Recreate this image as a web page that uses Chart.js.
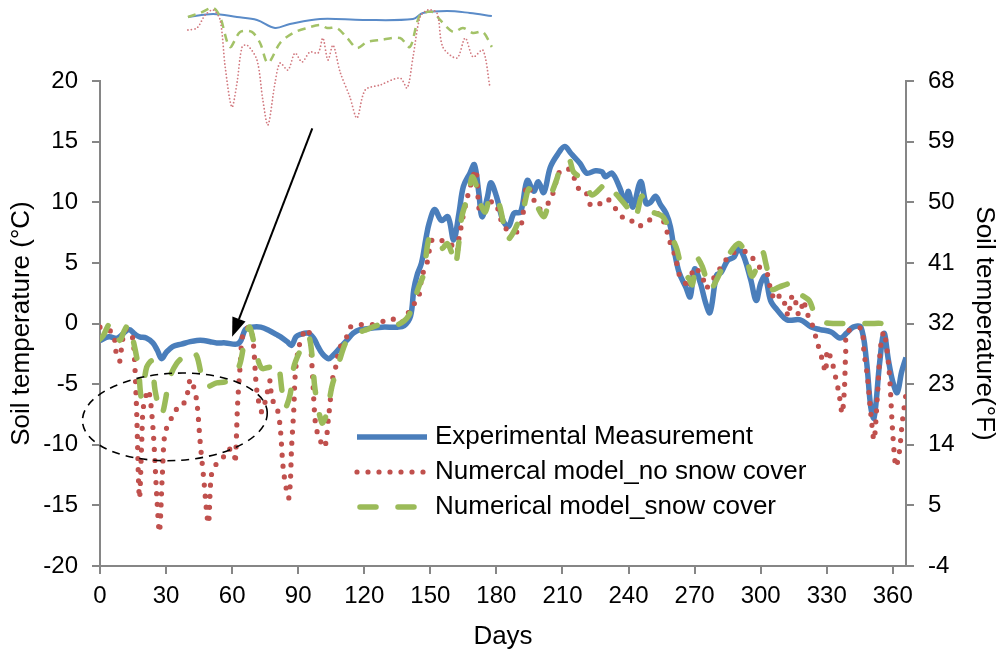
<!DOCTYPE html>
<html>
<head>
<meta charset="utf-8">
<script src="https://cdn.jsdelivr.net/npm/chart.js@4.4.1/dist/chart.umd.min.js"></script>
<style>
  html, body { margin: 0; padding: 0; background: #fff; }
  #wrap { position: relative; width: 1001px; height: 654px; }
  #mainChart { position: absolute; left: 0; top: 0; }
  #zoomChart { position: absolute; left: 187px; top: 3px; }
</style>
</head>
<body>
<div id="wrap">
  <canvas id="mainChart" width="1001" height="654"></canvas>
  <canvas id="zoomChart" width="308" height="126"></canvas>
</div>
<script>
// ---- measured soil temperature (°C) by day of year ----
const measDays = [0, 4, 8, 13, 16, 18, 21, 24, 26, 28, 30, 33, 37, 41, 44, 47, 50, 53, 57, 62, 64, 66, 69, 73, 77, 80, 82, 85, 87, 89, 91, 94.5, 97, 99, 101, 103.8, 106, 109, 112, 115, 118, 123, 128, 135, 138, 141, 142.5, 144, 146, 148, 149.5, 152, 155, 158, 160.6, 163, 165, 168, 170, 172, 173.5, 176, 177.5, 180, 183, 185.5, 188, 191, 194, 197, 199, 201.5, 204.5, 208, 211, 214, 218, 221, 225, 228, 229.5, 232.5, 236, 238.5, 240, 242, 245.5, 248, 250, 252.3, 254.5, 257, 259, 261, 263, 266, 268, 270, 272.7, 275, 277, 280, 282, 285, 288, 290, 292.4, 295.5, 298, 300, 302, 304.5, 307.6, 312, 318, 323, 327, 332, 336, 339, 342, 345.5, 348, 350, 351.5, 354, 356, 358, 360, 362, 364, 366];
const measTemp = [-1.4, -1.1, -1.2, -0.5, -0.9, -1.1, -1.2, -1.6, -2.2, -2.9, -2.4, -1.9, -1.7, -1.5, -1.4, -1.4, -1.5, -1.6, -1.6, -1.7, -1.4, -0.5, -0.3, -0.3, -0.6, -0.9, -1.1, -1.5, -1.8, -1.1, -0.9, -0.8, -1.2, -1.9, -2.5, -2.9, -2.6, -2.0, -1.4, -0.8, -0.5, -0.4, -0.3, -0.3, -0.2, 0.6, 2.8, 4.0, 5.0, 7.0, 8.3, 9.4, 8.5, 8.8, 6.9, 9.1, 11.3, 12.4, 13.1, 10.8, 8.8, 10.5, 11.6, 10.5, 8.5, 8.0, 9.1, 9.2, 11.8, 10.9, 11.7, 10.8, 12.9, 14.0, 14.6, 14.0, 13.2, 12.4, 12.6, 12.5, 12.1, 12.4, 11.2, 10.0, 10.9, 9.6, 11.7, 9.9, 10.0, 10.5, 9.8, 9.1, 8.0, 5.8, 4.2, 3.0, 2.2, 4.5, 3.3, 1.7, 0.9, 4.0, 4.2, 5.2, 5.5, 6.2, 5.5, 3.6, 1.9, 3.3, 3.9, 1.9, 1.1, 0.3, 0.3, -0.3, -0.5, -0.7, -1.2, -0.8, -0.3, -0.3, -3.0, -6.9, -7.8, -3.3, -0.8, -3.0, -4.8, -5.7, -4.0, -2.8];

// ---- numerical model without snow cover ----
const bareDays = [0, 3, 6, 7.6, 9, 9.8, 11.4, 14, 15.2, 16.5, 17.9, 19, 19.7, 22, 24, 25.8, 27, 28.3, 29.5, 31.8, 34, 35.6, 37.1, 39.4, 41, 42.5, 44, 45.5, 47, 49.2, 50.5, 52.3, 55.3, 57.6, 60.6, 61.4, 62.5, 63.6, 65, 68, 69.6, 71.2, 73.5, 75.8, 77.3, 78, 80.3, 81.8, 83.3, 85.6, 86.4, 87, 88, 88.6, 90, 92.4, 94.7, 96.2, 97.7, 99.2, 102, 103.8, 106, 107.6, 108.3, 112, 113.6, 118, 123.5, 128.8, 132.6, 136.4, 141.7, 144.7, 146.2, 148.5, 150.8, 153.8, 159, 162, 163, 166, 170.5, 171.2, 172.7, 177.3, 179.5, 183.3, 187, 190, 191.7, 194, 198.5, 200.8, 203.8, 206, 208.3, 211.4, 214.4, 216, 219, 221, 222.7, 225.8, 228, 231, 234, 237, 239.4, 242.4, 244.7, 248.5, 251.5, 253.8, 256.8, 258.3, 261.4, 262.9, 265, 267.4, 269.7, 273.5, 275, 277, 280, 284, 287, 291, 294, 299.2, 303, 304.5, 306.8, 309, 311.4, 312.5, 314.4, 316, 317.4, 319.7, 320.5, 322.7, 325.8, 328, 329.5, 330.3, 332.6, 334, 335.6, 337, 338, 338.6, 339.4, 345.5, 347, 348.5, 350, 351.5, 353, 354.5, 356, 358.3, 359.9, 361.4, 362.9, 364.4, 366];
const bareTemp = [-0.3, -0.5, -0.8, -2.7, -3.1, -2.0, -0.5, -0.8, -1.6, -6.5, -14.4, -9.5, -6.9, -5.5, -8.5, -14.3, -17.2, -12.5, -9.0, -8.1, -7.1, -7.1, -6.9, -6.0, -4.6, -5.2, -6.5, -9.8, -12.6, -16.5, -12.6, -11.7, -11.3, -10.4, -10.5, -11.5, -6.6, -3.6, -0.8, -0.3, -1.6, -5.5, -7.3, -5.8, -4.7, -6.2, -6.9, -8.5, -12.1, -14.4, -13.2, -10.2, -7.1, -4.4, -2.2, -0.8, -0.5, -3.3, -8.0, -9.3, -10.2, -7.7, -4.1, -3.3, -2.2, -1.1, -0.3, -0.1, -0.1, 0.2, 0.4, 0.0, 1.4, 2.2, 3.9, 5.0, 6.9, 6.9, 6.6, 5.9, 7.0, 9.8, 12.7, 12.0, 9.1, 10.0, 10.0, 8.0, 7.6, 7.6, 8.5, 11.4, 9.6, 9.4, 10.0, 10.9, 12.4, 12.8, 12.5, 11.6, 10.7, 10.7, 9.8, 10.0, 9.8, 10.2, 9.5, 8.8, 8.8, 8.3, 8.0, 8.5, 8.6, 9.1, 8.0, 7.0, 5.4, 4.1, 3.6, 2.9, 4.6, 3.9, 2.9, 3.3, 4.1, 5.2, 5.8, 5.9, 5.9, 4.7, 4.1, 2.8, 1.9, 2.35, 1.4, 0.6, 2.35, 1.7, 0.7, 1.9, 1.0, 0.3, -1.6, -3.0, -4.0, -2.2, -3.3, -4.4, -5.8, -7.4, -5.5, -2.5, -0.7, -0.4, -2.5, -4.4, -7.4, -9.6, -6.0, -1.9, -0.7, -3.8, -8.8, -11.8, -10.7, -8.0, -5.8];

// ---- numerical model with snow cover ----
const snowDays = [0, 1.5, 4.5, 7, 9, 11, 13, 15.2, 17.4, 18.6, 19.5, 21.2, 23.5, 25, 28, 31.8, 34.8, 38, 41, 44, 47.7, 53, 57, 60.6, 63.6, 66, 68, 71, 73.5, 77.3, 79.5, 81, 82.6, 84, 86.4, 88, 91, 94.7, 96.2, 97.7, 100.8, 103, 105.3, 107.6, 110.6, 112.9, 116.7, 121, 127, 135, 140, 144.7, 147, 149.2, 151.5, 155.3, 157.6, 159.8, 161.4, 163.6, 164.4, 167.4, 169, 171, 172.7, 175, 177.3, 181, 182.6, 184.8, 188, 192.4, 194.7, 197, 201.5, 204, 207.6, 209, 213, 215, 219.7, 223.5, 230.3, 233.3, 239.4, 243, 246, 248.5, 255, 257, 260, 262, 264.4, 267.4, 269, 271, 273.5, 277, 280, 285, 290, 293, 296.2, 300.8, 302.3, 305.3, 308.3, 314.4, 317.4, 322, 325, 329, 333, 343, 350, 355, 360, 362];
const snowTemp = [-1.3, -1.0, 0.0, -0.5, -1.4, -0.6, -0.1, -1.5, -3.6, -6.0, -5.5, -3.6, -3.1, -5.5, -7.5, -4.4, -3.3, -2.7, -2.2, -2.7, -5.2, -4.9, -4.8, -4.4, -3.3, -1.1, -0.3, -2.5, -3.7, -3.6, -3.8, -3.4, -5.5, -7.0, -5.8, -3.6, -2.2, -1.1, -2.5, -5.5, -8.2, -7.4, -5.2, -3.8, -2.0, -1.2, -0.8, -0.5, -0.1, -0.1, 0.6, 3.0, 4.1, 6.9, 7.2, 6.2, 6.6, 5.8, 4.8, 7.7, 8.9, 10.7, 12.1, 11.3, 9.9, 9.2, 10.5, 9.9, 8.8, 6.9, 7.6, 9.6, 11.1, 10.3, 8.8, 10.2, 12.0, 12.9, 13.5, 12.5, 11.8, 10.6, 11.6, 10.9, 9.6, 8.7, 10.5, 9.4, 8.9, 8.4, 7.0, 6.1, 4.4, 3.7, 3.2, 5.4, 4.7, 2.8, 3.6, 5.5, 6.6, 5.8, 3.9, 5.9, 5.0, 2.8, 3.0, 3.3, 2.5, 1.9, 0.6, 0.1, 0.0, 0.0, 0.0, 0.0, -0.3, -0.5];

// ---- magnified view of the winter period (days ~6-84) ----
const zoomMeasDays = [5.8, 12.2, 18.3, 23.4, 28, 31.8, 39.5, 50.4, 63.2, 65.7, 71.9, 77.7, 83.3];
const zoomMeasTemp = [-1.41, -1.0, -1.41, -1.81, -2.9, -2.36, -1.68, -1.81, -1.68, -0.86, -0.59, -0.86, -1.27];
const zoomSnowDays = [5.8, 8.9, 12.2, 14, 16.5, 19.1, 22.1, 24.2, 26.2, 29.3, 32.6, 36.2, 39.5, 41.3, 43.8, 46.4, 48.9, 51.5, 54.8, 59.9, 62.4, 65, 68.3, 70.1, 73.4, 75.9, 78.5, 81, 83.3];
const zoomSnowTemp = [-1.41, -0.86, -0.18, -1.41, -5.5, -3.45, -3.45, -4.95, -7.68, -4.95, -3.59, -2.91, -2.5, -2.91, -2.91, -4.27, -5.63, -4.82, -4.54, -4.27, -5.5, -1.13, -0.72, -1.81, -3.45, -2.91, -3.59, -3.45, -5.5];
const zoomBareDays = [5.8, 8.1, 10.2, 12.2, 14, 15.3, 17, 18.3, 19.6, 20.9, 23.4, 24.9, 26.2, 28, 29.3, 31.3, 33.1, 34.9, 36.9, 39, 40.2, 41.5, 42.8, 44.6, 47.1, 48.9, 51, 54.8, 59.9, 61.7, 63.2, 65, 67, 69.3, 70.8, 74.4, 76.5, 78.5, 81, 82.8];
const zoomBareTemp = [-3.18, -2.91, -1.13, -0.45, -1.81, -8.23, -13.7, -10.41, -5.5, -5.23, -7.27, -12.73, -16.14, -10.41, -7.68, -8.64, -6.32, -7.54, -6.18, -6.32, -4.27, -7.27, -5.23, -8.91, -12.32, -15.18, -11.36, -10.68, -9.73, -11.09, -6.86, -1.41, -0.45, -0.86, -5.5, -7.0, -4.27, -6.86, -5.91, -10.95];

// ---- annotation anchors (day, °C) ----
const circleCenter = [34, -7.7];
const circleRadius = [42, 3.6];
const arrowFrom = [96.4, 16.1];
const arrowTo = [60, -1.1];

const FONT = '"Liberation Sans", Arial, sans-serif';
const AXIS_GREY = '#868686';

const pts = (xs, ys) => xs.map((d, i) => ({ x: d, y: ys[i] }));

// dashed ellipse, arrow and the in-plot legend
const notesPlugin = {
  id: 'notes',
  afterDatasetsDraw(chart) {
    const { ctx } = chart;
    const x = chart.scales.x, y = chart.scales.y;

    ctx.save();
    // ellipse round the cold spell
    const cx = x.getPixelForValue(circleCenter[0]);
    const cy = y.getPixelForValue(circleCenter[1]);
    const rx = x.getPixelForValue(circleCenter[0] + circleRadius[0]) - cx;
    const ry = y.getPixelForValue(circleCenter[1] - circleRadius[1]) - cy;
    ctx.beginPath();
    ctx.ellipse(cx, cy, rx, ry, -0.05, 0, Math.PI * 2);
    ctx.setLineDash([8, 6]);
    ctx.lineWidth = 1.6;
    ctx.strokeStyle = '#000';
    ctx.stroke();

    // arrow from the magnified view down to the curve
    const x0 = x.getPixelForValue(arrowFrom[0]), y0 = y.getPixelForValue(arrowFrom[1]);
    const x1 = x.getPixelForValue(arrowTo[0]), y1 = y.getPixelForValue(arrowTo[1]);
    const ang = Math.atan2(y1 - y0, x1 - x0);
    const headLen = 19, headHalf = 7;
    ctx.setLineDash([]);
    ctx.lineWidth = 2;
    ctx.beginPath();
    ctx.moveTo(x0, y0);
    ctx.lineTo(x1 - Math.cos(ang) * headLen, y1 - Math.sin(ang) * headLen);
    ctx.stroke();
    ctx.beginPath();
    ctx.moveTo(x1, y1);
    ctx.lineTo(x1 - Math.cos(ang) * headLen - Math.sin(ang) * headHalf,
               y1 - Math.sin(ang) * headLen + Math.cos(ang) * headHalf);
    ctx.lineTo(x1 - Math.cos(ang) * headLen + Math.sin(ang) * headHalf,
               y1 - Math.sin(ang) * headLen - Math.cos(ang) * headHalf);
    ctx.closePath();
    ctx.fillStyle = '#000';
    ctx.fill();

    // legend
    const rowY = [437, 472, 507];
    ctx.font = '26px ' + FONT;
    ctx.textBaseline = 'middle';
    chart.data.datasets.forEach((ds, i) => {
      const ly = rowY[i];
      ctx.beginPath();
      ctx.setLineDash(ds.borderDash || []);
      ctx.lineCap = ds.borderCapStyle || 'butt';
      ctx.lineWidth = ds.borderWidth;
      ctx.strokeStyle = ds.borderColor;
      ctx.moveTo(i === 2 ? 360 : 357, ly);
      ctx.lineTo(427, ly);
      ctx.stroke();
      ctx.setLineDash([]);
      ctx.fillStyle = '#000';
      ctx.fillText(ds.label, 435, ly);
    });
    ctx.restore();
  }
};

const tickFont = { family: FONT, size: 24 };
const titleFont = { family: FONT, size: 26 };

new Chart(document.getElementById('mainChart'), {
  type: 'line',
  data: {
    datasets: [
      {
        label: 'Experimental Measurement',
        data: pts(measDays, measTemp),
        borderColor: '#4a7ebb',
        borderWidth: 5.5,
        pointRadius: 0,
        tension: 0.35,
        order: 3
      },
      {
        label: 'Numercal model_no snow cover',
        data: pts(bareDays, bareTemp),
        borderColor: '#c0504d',
        borderWidth: 5.2,
        borderDash: [0, 11],
        borderCapStyle: 'round',
        pointRadius: 0,
        tension: 0.3,
        order: 2
      },
      {
        label: 'Numerical model_snow cover',
        data: pts(snowDays, snowTemp),
        borderColor: '#9bbb59',
        borderWidth: 5.5,
        borderDash: [16, 22],
        borderCapStyle: 'round',
        pointRadius: 0,
        tension: 0.3,
        order: 1
      }
    ]
  },
  options: {
    responsive: false,
    animation: false,
    devicePixelRatio: 1,
    layout: { padding: { top: 81 } },
    plugins: { legend: { display: false }, tooltip: { enabled: false } },
    scales: {
      x: {
        type: 'linear',
        min: 0,
        max: 366,
        afterBuildTicks: s => { s.ticks = s.ticks.filter(t => t.value % 30 === 0); },
        afterFit: s => { s.height = 88; },
        ticks: { stepSize: 30, includeBounds: false, maxRotation: 0, color: '#000', font: tickFont, padding: 8 },
        grid: { drawOnChartArea: false, tickLength: 8, color: AXIS_GREY, lineWidth: 2 },
        border: { color: AXIS_GREY, width: 2 },
        title: { display: true, text: 'Days', color: '#000', font: titleFont, padding: { bottom: 2 } }
      },
      y: {
        position: 'left',
        min: -20,
        max: 20,
        afterFit: s => { s.width = 100; },
        ticks: { stepSize: 5, color: '#000', font: tickFont, padding: 14 },
        grid: { drawOnChartArea: false, tickLength: 8, color: AXIS_GREY, lineWidth: 2 },
        border: { color: AXIS_GREY, width: 2 },
        title: { display: true, text: 'Soil temperature (°C)', color: '#000', font: titleFont, padding: { top: 6 } }
      },
      y2: {
        position: 'right',
        min: -4,
        max: 68,
        afterFit: s => { s.width = 95; },
        ticks: { stepSize: 9, color: '#000', font: tickFont, padding: 14 },
        grid: { drawOnChartArea: false, tickLength: 8, color: AXIS_GREY, lineWidth: 2 },
        border: { color: AXIS_GREY, width: 2 },
        title: { display: true, text: 'Soil temperature(°F)', color: '#000', font: titleFont, padding: { top: 1 } }
      }
    }
  },
  plugins: [notesPlugin]
});

// magnified view pasted above the plot
new Chart(document.getElementById('zoomChart'), {
  type: 'line',
  data: {
    datasets: [
      {
        data: pts(zoomBareDays, zoomBareTemp),
        borderColor: '#d27a80',
        borderWidth: 1.8,
        borderDash: [0, 3.5],
        borderCapStyle: 'round',
        pointRadius: 0,
        tension: 0.3
      },
      {
        data: pts(zoomSnowDays, zoomSnowTemp),
        borderColor: '#a3c267',
        borderWidth: 2.5,
        borderDash: [8, 6],
        pointRadius: 0,
        tension: 0.3
      },
      {
        data: pts(zoomMeasDays, zoomMeasTemp),
        borderColor: '#5a8bc8',
        borderWidth: 2,
        pointRadius: 0,
        tension: 0.35
      }
    ]
  },
  options: {
    responsive: false,
    animation: false,
    devicePixelRatio: 1,
    layout: { padding: 0 },
    plugins: { legend: { display: false }, tooltip: { enabled: false } },
    scales: {
      x: { type: 'linear', display: false, min: 5.56, max: 84.1 },
      y: { display: false, min: -16.68, max: 0.5 }
    }
  }
});
</script>
</body>
</html>
